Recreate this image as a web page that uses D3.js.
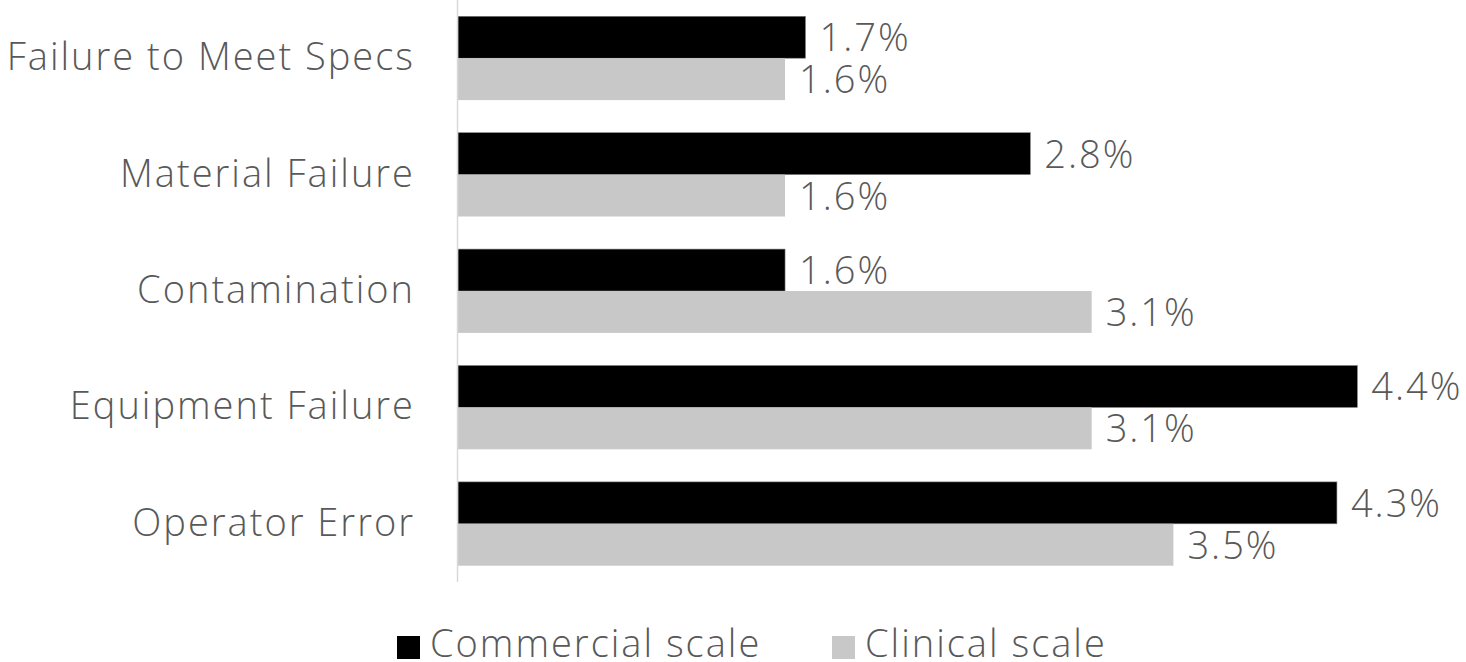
<!DOCTYPE html>
<html>
<head>
<meta charset="utf-8">
<script src="https://cdn.jsdelivr.net/npm/d3@7"></script>
<style>
  html, body { margin: 0; padding: 0; background: #fff; }
  svg { display: block; font-family: "Open Sans", Lato, sans-serif; font-weight: 300; letter-spacing: 2px; }
</style>
</head>
<body>
<div id="chart"></div>
<script>
// data
const categories = ['Failure to Meet Specs', 'Material Failure', 'Contamination', 'Equipment Failure', 'Operator Error']
const seriesNames = ['Commercial scale', 'Clinical scale']
const commercial = [1.7, 2.8, 1.6, 4.4, 4.3]
const clinical = [1.6, 1.6, 3.1, 3.1, 3.5]

const W = 1466, H = 662
const MARGINS = { top: 0, left: 458, bottom: 80, right: 0 }
const COLORS = ['#000000', '#c8c8c8']
const TEXT = '#595959'
const FONT = 38

const svg = d3.select('#chart').append('svg')
  .attr('width', W).attr('height', H)

const y = d3.scaleBand()
  .domain(categories)
  .range([MARGINS.top, H - MARGINS.bottom])
  .paddingInner(0.28)
  .paddingOuter(0.14)

const y1 = d3.scaleBand()
  .domain(seriesNames)
  .range([0, y.bandwidth()])

const x = d3.scaleLinear()
  .domain([0, 5])
  .range([MARGINS.left, MARGINS.left + 1022])

const rows = categories.map((c, i) => ({ name: c, values: [commercial[i], clinical[i]] }))

// bars
const g = svg.append('g')
rows.forEach((row) => {
  row.values.forEach((v, k) => {
    let top = y(row.name) + y1(seriesNames[k])
    g.append('rect')
      .attr('x', x(0))
      .attr('y', top)
      .attr('width', x(v) - x(0))
      .attr('height', y1.bandwidth())
      .attr('fill', COLORS[k])
      .attr('stroke', k === 0 ? '#7f7f7f' : 'none')
      .attr('stroke-width', 0.6)
    g.append('text')
      .attr('x', x(v) + 14)
      .attr('y', top + y1.bandwidth() / 2 + 14)
      .attr('fill', TEXT)
      .attr('font-size', FONT)
      .text(v.toFixed(1) + '%')
  })
})

// vertical axis line
svg.append('line')
  .attr('x1', x(0) - 0.5).attr('x2', x(0) - 0.5)
  .attr('y1', 0).attr('y2', H - MARGINS.bottom)
  .attr('stroke', '#d9d9d9').attr('stroke-width', 1.5)

// category labels
svg.append('g')
  .selectAll('text')
  .data(categories)
  .join('text')
  .attr('x', MARGINS.left - 43)
  .attr('y', (d) => y(d) + y.bandwidth() / 2 + 12)
  .attr('text-anchor', 'end')
  .attr('fill', TEXT)
  .attr('font-size', FONT)
  .text((d) => d)

// legend
const legendX = [397, 832]
const legend = svg.append('g')
seriesNames.forEach((s, k) => {
  legend.append('rect')
    .attr('x', legendX[k]).attr('y', 636)
    .attr('width', 23).attr('height', 23)
    .attr('fill', COLORS[k])
  legend.append('text')
    .attr('x', legendX[k] + 33).attr('y', 657)
    .attr('fill', TEXT)
    .attr('font-size', FONT)
    .text(s)
})
</script>
</body>
</html>
